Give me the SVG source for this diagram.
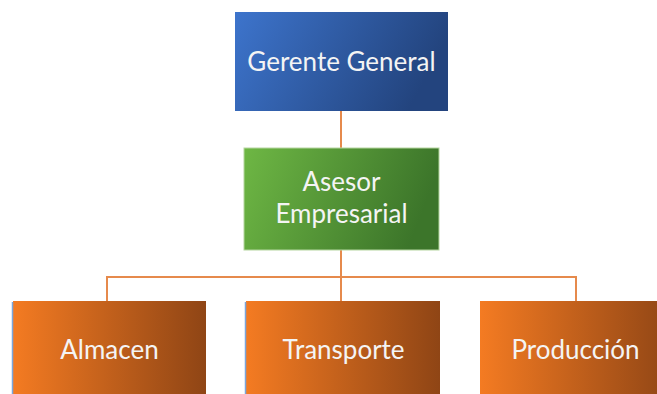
<svg xmlns="http://www.w3.org/2000/svg" width="657" height="394" viewBox="0 0 657 394">
  <defs>
    <linearGradient id="gBlue" x1="0" y1="0" x2="1" y2="0.25">
      <stop offset="0" stop-color="#3d74cc"/>
      <stop offset="1" stop-color="#23447e"/>
    </linearGradient>
    <linearGradient id="gGreen" x1="0" y1="0" x2="1" y2="0.2">
      <stop offset="0" stop-color="#6eb744"/>
      <stop offset="1" stop-color="#3c752a"/>
    </linearGradient>
    <linearGradient id="gOrange" x1="0" y1="0" x2="1" y2="0">
      <stop offset="0" stop-color="#f47b22"/>
      <stop offset="1" stop-color="#8f4515"/>
    </linearGradient>
  </defs>
  <style>
    .lbl { font-family: Lato, "Liberation Sans", Arial, sans-serif; font-size: 26px; fill: #f4f4f4; text-anchor: middle; }
    .conn { stroke: #e68a4c; stroke-width: 2; fill: none; }
    .edge { stroke: #7aa6dc; stroke-width: 1.5; }
  </style>

  <!-- connectors -->
  <g id="connectors">
    <line class="conn" x1="341" y1="111" x2="341" y2="148"/>
    <line class="conn" x1="341" y1="250" x2="341" y2="301"/>
    <polyline class="conn" points="107,301 107,277 576,277 576,301"/>
  </g>

  <g id="gerente">
    <rect x="235" y="12" width="213" height="99" fill="url(#gBlue)"/>
    <text class="lbl" x="341.5" y="71">Gerente General</text>
  </g>

  <g id="asesor">
    <rect x="244" y="148" width="195" height="102" fill="url(#gGreen)" stroke="#b5d6a0" stroke-width="1"/>
    <text class="lbl" x="341.5" y="191">Asesor</text>
    <text class="lbl" x="341.5" y="223">Empresarial</text>
  </g>

  <g id="almacen">
    <rect x="13" y="301" width="193" height="100" fill="url(#gOrange)"/>
    <line class="edge" x1="12.5" y1="302" x2="12.5" y2="394"/>
    <text class="lbl" x="109.5" y="359">Almacen</text>
  </g>

  <g id="transporte">
    <rect x="246" y="301" width="194" height="100" fill="url(#gOrange)"/>
    <line class="edge" x1="245.5" y1="302" x2="245.5" y2="394"/>
    <text class="lbl" x="343.5" y="359">Transporte</text>
  </g>

  <g id="produccion">
    <rect x="480" y="301" width="194" height="100" fill="url(#gOrange)"/>
    <text class="lbl" x="575.5" y="359">Producción</text>
  </g>
</svg>
